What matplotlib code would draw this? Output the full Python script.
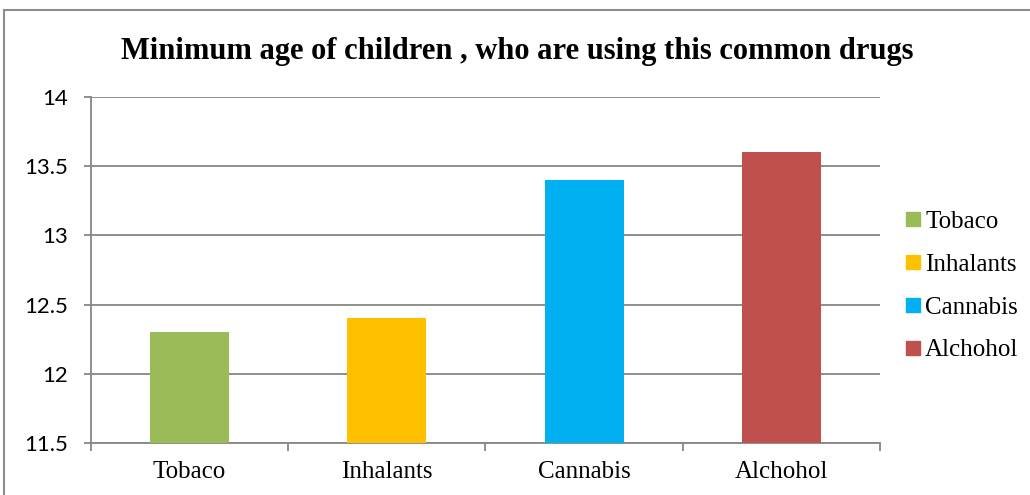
import matplotlib
matplotlib.use("Agg")
import matplotlib.pyplot as plt
from matplotlib.patches import Rectangle
from matplotlib.lines import Line2D

categories = ["Tobaco", "Inhalants", "Cannabis", "Alchohol"]
min_age = [12.3, 12.4, 13.4, 13.6]
colors = ["#9BBB59", "#FFC000", "#00B0F0", "#C0504D"]
y_ticks = [11.5, 12, 12.5, 13, 13.5, 14]
y_tick_labels = ["11.5", "12", "12.5", "13", "13.5", "14"]

GRID = "#868686"

fig = plt.figure(figsize=(10.30, 4.95), dpi=100)
fig.patches.append(Rectangle((0.004, -0.01), 1.0, 0.99, transform=fig.transFigure,
                             fill=False, edgecolor="#8c8c8c", linewidth=1.5))
ax = fig.add_axes([0.0883, 0.105, 0.766, 0.699])

x = list(range(len(categories)))
ax.bar(x, [v - 11.5 for v in min_age], width=0.4, bottom=11.5, color=colors, zorder=3)

ax.set_xlim(-0.5, len(categories) - 0.5)
ax.set_ylim(11.5, 14)
ax.set_yticks(y_ticks)
ax.set_yticklabels(y_tick_labels, fontfamily="Lato", fontsize=16)
ax.yaxis.grid(True, color=GRID, linewidth=1.3, zorder=0)
ax.set_xticks(x)
ax.set_xticklabels(categories, fontfamily="Liberation Serif", fontsize=18)
ax.set_xticks([i - 0.5 for i in range(len(categories) + 1)], minor=True)
ax.tick_params(axis="x", which="major", length=0, pad=13)
ax.tick_params(axis="x", which="minor", length=6, color=GRID, width=1.3)
ax.tick_params(axis="y", length=5, color=GRID, width=1.3, pad=11.5)

for side in ["top", "right"]:
    ax.spines[side].set_visible(False)
for side in ["left", "bottom"]:
    ax.spines[side].set_color(GRID)
    ax.spines[side].set_linewidth(1.3)

fig.text(0.502, 0.895, "Minimum age of children , who are using this common drugs",
         ha="center", va="center", fontfamily="Liberation Serif", fontweight="bold", fontsize=22)

handles = [Line2D([0], [0], marker="s", linestyle="", markersize=9.4,
                  markerfacecolor=c, markeredgecolor=c) for c in colors]
fig.legend(handles, categories, loc="center left", bbox_to_anchor=(905 / 1030, 1 - 286 / 495),
           frameon=False, prop={"family": "Liberation Serif", "size": 18},
           borderpad=0, borderaxespad=0, handletextpad=0.2, labelspacing=0.81,
           handlelength=0.6)

fig.savefig("out.png", dpi=100)
